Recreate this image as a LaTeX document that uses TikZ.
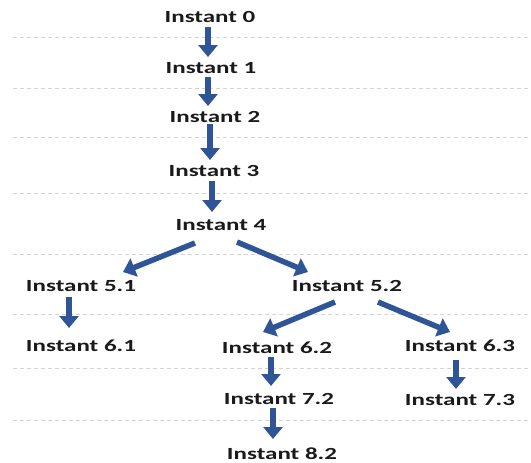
\documentclass[tikz,border=0pt]{standalone}
\usepackage{fontspec}
\setmainfont{Carlito}[FakeStretch=1.47]
\usetikzlibrary{arrows.meta,calc}
\definecolor{arrblue}{HTML}{2F5597}
\definecolor{sepgray}{HTML}{D4D4D4}
\definecolor{txt}{HTML}{1A1A1A}
\tikzset{
  inst/.style={font=\fontsize{17}{20}\selectfont\bfseries, text=txt, inner sep=3pt, text height=12pt, text depth=0pt},
  flow/.style={draw=arrblue, line width=5.5pt, -{Triangle[width=19pt,length=12pt]}},
  sep/.style={draw=sepgray, line width=0.8pt, dash pattern=on 4pt off 3pt}
}
\begin{document}
\begin{tikzpicture}[x=1pt,y=-1pt]
\useasboundingbox (0,0) rectangle (531,463);
% separators
\foreach \yy in {37,88,137,193,254,314,368,420}
  \draw[sep] (13,\yy) -- (531,\yy);
% nodes
\node[inst] (n0) at (210,17) {Instant 0};
\node[inst] (n1) at (211,67) {Instant 1};
\node[inst] (n2) at (215,116) {Instant 2};
\node[inst] (n3) at (214,170) {Instant 3};
\node[inst] (n4) at (221,224) {Instant 4};
\node[inst] (n51) at (81,285) {Instant 5.1};
\node[inst] (n52) at (347,285) {Instant 5.2};
\node[inst] (n61) at (81,345) {Instant 6.1};
\node[inst] (n62) at (277,347) {Instant 6.2};
\node[inst] (n63) at (460,345) {Instant 6.3};
\node[inst] (n72) at (279,398) {Instant 7.2};
\node[inst] (n73) at (460,399) {Instant 7.3};
\node[inst] (n82) at (282,453) {Instant 8.2};
% arrows
\draw[flow] ($(n0.center)+(-2,10)$) -- ($(n1.center)+(-3,-10)$);
\draw[flow] ($(n1.center)+(-3,10)$) -- ($(n2.center)+(-7,-10)$);
\draw[flow] ($(n2.center)+(-5,8)$) -- ($(n3.center)+(-4,-10)$);
\draw[flow] ($(n3.center)+(-2,11)$) -- ($(n4.center)+(-9,-12)$);
\draw[flow] ($(n4.center)+(-26,19)$) -- ($(n51.center)+(42,-13)$);
\draw[flow] ($(n4.center)+(16,18)$) -- ($(n52.center)+(-39,-13)$);
\draw[flow] ($(n51.center)+(-12,12)$) -- ($(n61.center)+(-12,-17)$);
\draw[flow] ($(n52.center)+(-12,17)$) -- ($(n62.center)+(-14,-15)$);
\draw[flow] ($(n52.center)+(31,17)$) -- ($(n63.center)+(-10,-13)$);
\draw[flow] ($(n62.center)+(-6,10)$) -- ($(n72.center)+(-8,-12)$);
\draw[flow] ($(n63.center)+(-4,15)$) -- ($(n73.center)+(-4,-10)$);
\draw[flow] ($(n72.center)+(-6,10)$) -- ($(n82.center)+(-9,-14)$);
\end{tikzpicture}
\end{document}
